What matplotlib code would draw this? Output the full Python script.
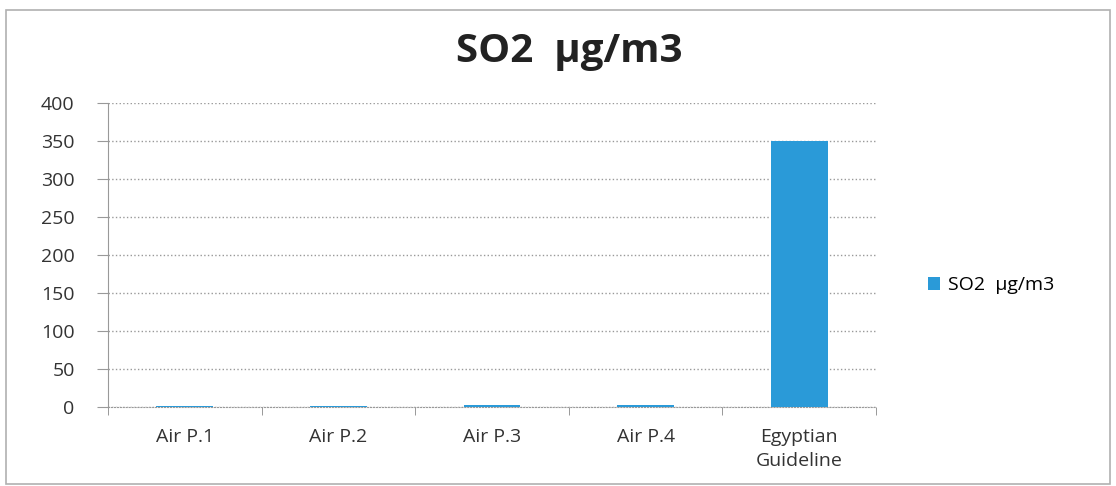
import matplotlib
matplotlib.use("Agg")
import matplotlib.pyplot as plt
from matplotlib.patches import Rectangle

categories = ["Air P.1", "Air P.2", "Air P.3", "Air P.4", "Egyptian\nGuideline"]
values = [1.0, 1.5, 2.0, 3.0, 350]
series_name = "SO2  µg/m3"
yticks = [0, 50, 100, 150, 200, 250, 300, 350, 400]

plt.rcParams['font.family'] = ['Open Sans', 'DejaVu Sans']

fig = plt.figure(figsize=(11.16, 4.86), dpi=100)
fig.patches.append(Rectangle((0.005, 0.005), 0.99, 0.975, transform=fig.transFigure,
                             fill=False, edgecolor='#b0b0b0', linewidth=1.2))
ax = fig.add_axes([0.0968, 0.1626, 0.6882, 0.6254])
x = list(range(len(categories)))
ax.bar(x, values, width=0.37, color='#2a9ad8', label=series_name, zorder=3)
ax.set_xlim(-0.5, len(categories) - 0.5)
ax.set_ylim(0, 400)
ax.set_yticks(yticks)
ax.set_yticklabels([str(v) for v in yticks], fontsize=14, color='#333333')
ax.set_xticks(x)
ax.set_xticklabels(categories, fontsize=14, color='#333333', linespacing=1.45)
ax.set_xticks([i - 0.5 for i in range(len(categories) + 1)], minor=True)
ax.tick_params(axis='x', which='major', length=0, pad=15)
ax.tick_params(axis='x', which='minor', length=6, color='#888888')
ax.tick_params(axis='y', length=8, color='#999999', pad=16)
ax.yaxis.grid(True, linestyle=':', color='#999999', linewidth=1, zorder=0)
for s in ['top', 'right']:
    ax.spines[s].set_visible(False)
ax.spines['left'].set_color('#999999')
ax.spines['bottom'].set_color('#999999')
ax.spines['bottom'].set_linestyle(':')

fig.text(0.51, 0.895, series_name, ha='center', va='center', fontsize=29, fontweight='bold', color='#222222')
ax.legend(loc='center left', bbox_to_anchor=(1.045, 0.40), frameon=False, fontsize=14,
          handlelength=0.6, handleheight=0.6, handletextpad=0.4)

fig.savefig("out.png", dpi=100)
